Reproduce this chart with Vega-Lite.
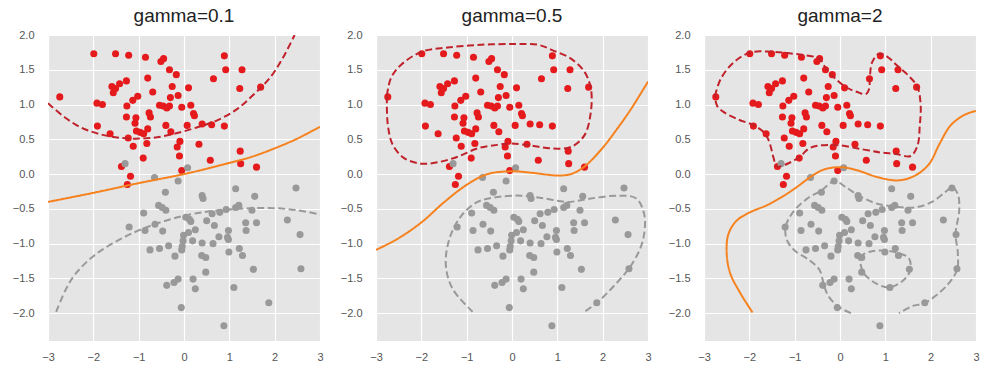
{
"$schema": "https://vega.github.io/schema/vega-lite/v6.json",
"background": "white",
"padding": {"left": 12, "top": 7, "right": 10, "bottom": 5},
"spacing": 56,
"bounds": "flush",
"config": {
 "view": {"fill": "#E5E5E5", "stroke": null},
 "axis": {"grid": true, "gridColor": "#FFFFFF", "gridWidth": 1.2, "domain": false, "ticks": false, "tickSize": 0, "labelColor": "#555555", "labelFont": "Liberation Sans", "labelFontSize": 11, "title": null, "labelFlush": false, "labelOverlap": false},
 "axisX": {"labelPadding": 10},
 "axisY": {"labelPadding": 14},
 "title": {"font": "Liberation Sans", "fontSize": 19, "fontWeight": "normal", "color": "#222222", "offset": 3}
},
"datasets": {
 "pts": [
  {"x":-1.99,"y":1.73,"c":"red"},{"x":-1.51,"y":1.73,"c":"red"},{"x":-1.22,"y":1.71,"c":"red"},{"x":-0.85,"y":1.68,"c":"red"},{"x":-0.51,"y":1.62,"c":"red"},{"x":-0.45,"y":1.66,"c":"red"},{"x":0.89,"y":1.70,"c":"red"},{"x":-0.32,"y":1.50,"c":"red"},{"x":-0.17,"y":1.43,"c":"red"},{"x":0.92,"y":1.50,"c":"red"},{"x":1.28,"y":1.50,"c":"red"},{"x":-0.80,"y":1.38,"c":"red"},{"x":0.65,"y":1.37,"c":"red"},{"x":-1.59,"y":1.26,"c":"red"},{"x":-1.51,"y":1.23,"c":"red"},{"x":-1.56,"y":1.17,"c":"red"},{"x":-1.42,"y":1.30,"c":"red"},{"x":-1.27,"y":1.34,"c":"red"},{"x":-0.26,"y":1.26,"c":"red"},{"x":0.10,"y":1.24,"c":"red"},{"x":1.23,"y":1.23,"c":"red"},{"x":1.69,"y":1.25,"c":"red"},{"x":-2.74,"y":1.11,"c":"red"},{"x":-0.69,"y":1.18,"c":"red"},{"x":-1.02,"y":1.12,"c":"red"},{"x":-1.13,"y":1.06,"c":"red"},{"x":-1.26,"y":0.98,"c":"red"},{"x":-1.92,"y":1.02,"c":"red"},{"x":-1.80,"y":1.00,"c":"red"},{"x":-0.30,"y":1.10,"c":"red"},{"x":-0.13,"y":1.13,"c":"red"},{"x":-0.54,"y":0.99,"c":"red"},{"x":-0.46,"y":0.98,"c":"red"},{"x":-0.38,"y":0.95,"c":"red"},{"x":-0.32,"y":0.98,"c":"red"},{"x":-0.05,"y":0.96,"c":"red"},{"x":0.15,"y":0.99,"c":"red"},{"x":-0.77,"y":0.88,"c":"red"},{"x":-0.74,"y":0.82,"c":"red"},{"x":0.21,"y":0.87,"c":"red"},{"x":0.23,"y":0.84,"c":"red"},{"x":-1.27,"y":0.82,"c":"red"},{"x":-1.06,"y":0.81,"c":"red"},{"x":-1.08,"y":0.73,"c":"red"},{"x":-0.40,"y":0.70,"c":"red"},{"x":0.07,"y":0.70,"c":"red"},{"x":0.40,"y":0.72,"c":"red"},{"x":0.61,"y":0.71,"c":"red"},{"x":0.89,"y":0.69,"c":"red"},{"x":-1.91,"y":0.69,"c":"red"},{"x":-1.05,"y":0.62,"c":"red"},{"x":-0.97,"y":0.60,"c":"red"},{"x":-0.80,"y":0.65,"c":"red"},{"x":-0.89,"y":0.58,"c":"red"},{"x":-0.29,"y":0.61,"c":"red"},{"x":-1.63,"y":0.58,"c":"red"},{"x":-1.23,"y":0.52,"c":"red"},{"x":-0.09,"y":0.47,"c":"red"},{"x":-1.12,"y":0.40,"c":"red"},{"x":-0.82,"y":0.44,"c":"red"},{"x":-0.15,"y":0.39,"c":"red"},{"x":0.33,"y":0.43,"c":"red"},{"x":1.24,"y":0.33,"c":"red"},{"x":-0.10,"y":0.26,"c":"red"},{"x":-0.90,"y":0.23,"c":"red"},{"x":0.58,"y":0.20,"c":"red"},{"x":1.25,"y":0.15,"c":"red"},{"x":1.60,"y":0.10,"c":"red"},{"x":-1.38,"y":0.11,"c":"red"},{"x":-0.05,"y":0.05,"c":"red"},{"x":-1.18,"y":-0.03,"c":"red"},{"x":-1.25,"y":-0.15,"c":"red"},
  {"x":-1.30,"y":0.15,"c":"gray"},{"x":0.08,"y":0.09,"c":"gray"},{"x":-0.13,"y":-0.10,"c":"gray"},{"x":-0.65,"y":-0.05,"c":"gray"},{"x":-0.41,"y":-0.26,"c":"gray"},{"x":0.40,"y":-0.31,"c":"gray"},{"x":0.42,"y":-0.35,"c":"gray"},{"x":1.14,"y":-0.21,"c":"gray"},{"x":1.56,"y":-0.32,"c":"gray"},{"x":2.47,"y":-0.20,"c":"gray"},{"x":-0.56,"y":-0.45,"c":"gray"},{"x":-0.48,"y":-0.48,"c":"gray"},{"x":-0.40,"y":-0.52,"c":"gray"},{"x":-0.89,"y":-0.56,"c":"gray"},{"x":1.14,"y":-0.48,"c":"gray"},{"x":1.21,"y":-0.45,"c":"gray"},{"x":0.93,"y":-0.51,"c":"gray"},{"x":0.79,"y":-0.55,"c":"gray"},{"x":0.62,"y":-0.57,"c":"gray"},{"x":1.50,"y":-0.52,"c":"gray"},{"x":0.04,"y":-0.62,"c":"gray"},{"x":0.12,"y":-0.65,"c":"gray"},{"x":0.15,"y":-0.68,"c":"gray"},{"x":0.50,"y":-0.67,"c":"gray"},{"x":0.67,"y":-0.74,"c":"gray"},{"x":1.36,"y":-0.70,"c":"gray"},{"x":1.60,"y":-0.70,"c":"gray"},{"x":2.28,"y":-0.66,"c":"gray"},{"x":-1.21,"y":-0.76,"c":"gray"},{"x":-0.64,"y":-0.72,"c":"gray"},{"x":-0.86,"y":-0.81,"c":"gray"},{"x":-0.47,"y":-0.82,"c":"gray"},{"x":1.37,"y":-0.81,"c":"gray"},{"x":0.25,"y":-0.80,"c":"gray"},{"x":0.10,"y":-0.84,"c":"gray"},{"x":-0.01,"y":-0.88,"c":"gray"},{"x":0.98,"y":-0.81,"c":"gray"},{"x":0.77,"y":-0.90,"c":"gray"},{"x":0.96,"y":-0.91,"c":"gray"},{"x":0.98,"y":-0.94,"c":"gray"},{"x":2.56,"y":-0.87,"c":"gray"},{"x":-0.02,"y":-0.96,"c":"gray"},{"x":0.19,"y":-0.96,"c":"gray"},{"x":0.40,"y":-0.99,"c":"gray"},{"x":0.64,"y":-1.00,"c":"gray"},{"x":-0.75,"y":-1.09,"c":"gray"},{"x":-0.54,"y":-1.07,"c":"gray"},{"x":-0.34,"y":-1.03,"c":"gray"},{"x":-0.04,"y":-1.04,"c":"gray"},{"x":-0.05,"y":-1.09,"c":"gray"},{"x":-0.20,"y":-1.18,"c":"gray"},{"x":0.99,"y":-1.12,"c":"gray"},{"x":1.22,"y":-1.07,"c":"gray"},{"x":1.29,"y":-1.17,"c":"gray"},{"x":0.39,"y":-1.17,"c":"gray"},{"x":0.48,"y":-1.20,"c":"gray"},{"x":1.53,"y":-1.37,"c":"gray"},{"x":2.58,"y":-1.36,"c":"gray"},{"x":0.48,"y":-1.41,"c":"gray"},{"x":-0.38,"y":-1.60,"c":"gray"},{"x":-0.22,"y":-1.56,"c":"gray"},{"x":-0.13,"y":-1.51,"c":"gray"},{"x":0.20,"y":-1.51,"c":"gray"},{"x":0.25,"y":-1.65,"c":"gray"},{"x":1.10,"y":-1.63,"c":"gray"},{"x":1.87,"y":-1.85,"c":"gray"},{"x":-0.06,"y":-1.92,"c":"gray"},{"x":0.88,"y":-2.18,"c":"gray"}
 ],
 "curves": [
  {"p":1,"k":"b","i":0,"x":-3,"y":-0.40},{"p":1,"k":"b","i":1,"x":-2,"y":-0.27},{"p":1,"k":"b","i":2,"x":-1,"y":-0.13},{"p":1,"k":"b","i":3,"x":0,"y":0.0},{"p":1,"k":"b","i":4,"x":1,"y":0.16},{"p":1,"k":"b","i":5,"x":1.5,"y":0.25},{"p":1,"k":"b","i":6,"x":2,"y":0.37},{"p":1,"k":"b","i":7,"x":2.5,"y":0.51},{"p":1,"k":"b","i":8,"x":3,"y":0.68},
  {"p":1,"k":"r","i":0,"x":-3,"y":1.02},{"p":1,"k":"r","i":1,"x":-2.64,"y":0.82},{"p":1,"k":"r","i":2,"x":-2.27,"y":0.67},{"p":1,"k":"r","i":3,"x":-1.83,"y":0.57},{"p":1,"k":"r","i":4,"x":-1.39,"y":0.52},{"p":1,"k":"r","i":5,"x":-0.99,"y":0.51},{"p":1,"k":"r","i":6,"x":-0.59,"y":0.53},{"p":1,"k":"r","i":7,"x":-0.15,"y":0.59},{"p":1,"k":"r","i":8,"x":0.28,"y":0.67},{"p":1,"k":"r","i":9,"x":0.72,"y":0.77},{"p":1,"k":"r","i":10,"x":1.16,"y":0.93},{"p":1,"k":"r","i":11,"x":1.53,"y":1.14},{"p":1,"k":"r","i":12,"x":1.89,"y":1.38},{"p":1,"k":"r","i":13,"x":2.18,"y":1.67},{"p":1,"k":"r","i":14,"x":2.44,"y":2.0},
  {"p":1,"k":"g","i":0,"x":-2.82,"y":-1.98},{"p":1,"k":"g","i":1,"x":-2.6,"y":-1.65},{"p":1,"k":"g","i":2,"x":-2.4,"y":-1.44},{"p":1,"k":"g","i":3,"x":-2.0,"y":-1.18},{"p":1,"k":"g","i":4,"x":-1.5,"y":-0.97},{"p":1,"k":"g","i":5,"x":-1.0,"y":-0.81},{"p":1,"k":"g","i":6,"x":-0.5,"y":-0.69},{"p":1,"k":"g","i":7,"x":0,"y":-0.60},{"p":1,"k":"g","i":8,"x":0.5,"y":-0.54},{"p":1,"k":"g","i":9,"x":1.0,"y":-0.51},{"p":1,"k":"g","i":10,"x":1.5,"y":-0.49},{"p":1,"k":"g","i":11,"x":2.0,"y":-0.49},{"p":1,"k":"g","i":12,"x":2.5,"y":-0.52},{"p":1,"k":"g","i":13,"x":3.0,"y":-0.58},
  {"p":2,"k":"b","i":0,"x":-3,"y":-1.09},{"p":2,"k":"b","i":1,"x":-2.52,"y":-0.93},{"p":2,"k":"b","i":2,"x":-1.99,"y":-0.69},{"p":2,"k":"b","i":3,"x":-1.49,"y":-0.40},{"p":2,"k":"b","i":4,"x":-0.99,"y":-0.15},{"p":2,"k":"b","i":5,"x":-0.54,"y":0.0},{"p":2,"k":"b","i":6,"x":0,"y":0.04},{"p":2,"k":"b","i":7,"x":0.42,"y":0.02},{"p":2,"k":"b","i":8,"x":1.0,"y":-0.02},{"p":2,"k":"b","i":9,"x":1.30,"y":0.0},{"p":2,"k":"b","i":10,"x":1.60,"y":0.11},{"p":2,"k":"b","i":11,"x":1.99,"y":0.37},{"p":2,"k":"b","i":12,"x":2.33,"y":0.66},{"p":2,"k":"b","i":13,"x":2.63,"y":0.94},{"p":2,"k":"b","i":14,"x":3,"y":1.33},
  {"p":2,"k":"r","i":0,"x":-2.76,"y":1.13},{"p":2,"k":"r","i":1,"x":-2.67,"y":1.38},{"p":2,"k":"r","i":2,"x":-2.45,"y":1.57},{"p":2,"k":"r","i":3,"x":-1.99,"y":1.76},{"p":2,"k":"r","i":4,"x":-1.42,"y":1.82},{"p":2,"k":"r","i":5,"x":-0.68,"y":1.86},{"p":2,"k":"r","i":6,"x":0.05,"y":1.87},{"p":2,"k":"r","i":7,"x":0.57,"y":1.86},{"p":2,"k":"r","i":8,"x":0.90,"y":1.78},{"p":2,"k":"r","i":9,"x":1.30,"y":1.66},{"p":2,"k":"r","i":10,"x":1.60,"y":1.47},{"p":2,"k":"r","i":11,"x":1.74,"y":1.23},{"p":2,"k":"r","i":12,"x":1.74,"y":0.90},{"p":2,"k":"r","i":13,"x":1.60,"y":0.56},{"p":2,"k":"r","i":14,"x":1.30,"y":0.39},{"p":2,"k":"r","i":15,"x":0.86,"y":0.37},{"p":2,"k":"r","i":16,"x":0.42,"y":0.41},{"p":2,"k":"r","i":17,"x":-0.02,"y":0.44},{"p":2,"k":"r","i":18,"x":-0.32,"y":0.42},{"p":2,"k":"r","i":19,"x":-0.76,"y":0.37},{"p":2,"k":"r","i":20,"x":-1.20,"y":0.25},{"p":2,"k":"r","i":21,"x":-1.64,"y":0.17},{"p":2,"k":"r","i":22,"x":-2.01,"y":0.15},{"p":2,"k":"r","i":23,"x":-2.38,"y":0.23},{"p":2,"k":"r","i":24,"x":-2.63,"y":0.42},{"p":2,"k":"r","i":25,"x":-2.74,"y":0.71},{"p":2,"k":"r","i":26,"x":-2.76,"y":1.13},
  {"p":2,"k":"g","i":0,"x":-0.87,"y":-1.98},{"p":2,"k":"g","i":1,"x":-1.31,"y":-1.65},{"p":2,"k":"g","i":2,"x":-1.46,"y":-1.31},{"p":2,"k":"g","i":3,"x":-1.38,"y":-0.93},{"p":2,"k":"g","i":4,"x":-1.13,"y":-0.61},{"p":2,"k":"g","i":5,"x":-0.76,"y":-0.40},{"p":2,"k":"g","i":6,"x":-0.32,"y":-0.33},{"p":2,"k":"g","i":7,"x":0.20,"y":-0.31},{"p":2,"k":"g","i":8,"x":0.71,"y":-0.35},{"p":2,"k":"g","i":9,"x":1.23,"y":-0.40},{"p":2,"k":"g","i":10,"x":1.74,"y":-0.35},{"p":2,"k":"g","i":11,"x":2.33,"y":-0.31},{"p":2,"k":"g","i":12,"x":2.74,"y":-0.35},{"p":2,"k":"g","i":13,"x":2.92,"y":-0.59},{"p":2,"k":"g","i":14,"x":2.88,"y":-0.97},{"p":2,"k":"g","i":15,"x":2.63,"y":-1.31},{"p":2,"k":"g","i":16,"x":2.26,"y":-1.60},{"p":2,"k":"g","i":17,"x":1.89,"y":-1.84},{"p":2,"k":"g","i":18,"x":1.60,"y":-1.98},
  {"p":3,"k":"b","i":0,"x":-1.93,"y":-1.99},{"p":3,"k":"b","i":1,"x":-2.20,"y":-1.71},{"p":3,"k":"b","i":2,"x":-2.42,"y":-1.43},{"p":3,"k":"b","i":3,"x":-2.50,"y":-1.14},{"p":3,"k":"b","i":4,"x":-2.46,"y":-0.86},{"p":3,"k":"b","i":5,"x":-2.28,"y":-0.67},{"p":3,"k":"b","i":6,"x":-1.99,"y":-0.55},{"p":3,"k":"b","i":7,"x":-1.62,"y":-0.45},{"p":3,"k":"b","i":8,"x":-1.26,"y":-0.32},{"p":3,"k":"b","i":9,"x":-0.96,"y":-0.19},{"p":3,"k":"b","i":10,"x":-0.67,"y":-0.05},{"p":3,"k":"b","i":11,"x":-0.38,"y":0.06},{"p":3,"k":"b","i":12,"x":-0.01,"y":0.10},{"p":3,"k":"b","i":13,"x":0.35,"y":0.06},{"p":3,"k":"b","i":14,"x":0.86,"y":-0.05},{"p":3,"k":"b","i":15,"x":1.30,"y":-0.09},{"p":3,"k":"b","i":16,"x":1.66,"y":-0.02},{"p":3,"k":"b","i":17,"x":1.96,"y":0.14},{"p":3,"k":"b","i":18,"x":2.20,"y":0.44},{"p":3,"k":"b","i":19,"x":2.44,"y":0.70},{"p":3,"k":"b","i":20,"x":2.74,"y":0.85},{"p":3,"k":"b","i":21,"x":3.0,"y":0.91},
  {"p":3,"k":"r","i":0,"x":-2.76,"y":1.12},{"p":3,"k":"r","i":1,"x":-2.63,"y":1.37},{"p":3,"k":"r","i":2,"x":-2.34,"y":1.61},{"p":3,"k":"r","i":3,"x":-1.97,"y":1.75},{"p":3,"k":"r","i":4,"x":-1.53,"y":1.76},{"p":3,"k":"r","i":5,"x":-1.16,"y":1.74},{"p":3,"k":"r","i":6,"x":-0.79,"y":1.71},{"p":3,"k":"r","i":7,"x":-0.46,"y":1.66},{"p":3,"k":"r","i":8,"x":-0.32,"y":1.53},{"p":3,"k":"r","i":9,"x":-0.13,"y":1.39},{"p":3,"k":"r","i":10,"x":0.13,"y":1.25},{"p":3,"k":"r","i":11,"x":0.38,"y":1.18},{"p":3,"k":"r","i":12,"x":0.57,"y":1.15},{"p":3,"k":"r","i":13,"x":0.64,"y":1.22},{"p":3,"k":"r","i":14,"x":0.66,"y":1.41},{"p":3,"k":"r","i":15,"x":0.71,"y":1.61},{"p":3,"k":"r","i":16,"x":0.86,"y":1.73},{"p":3,"k":"r","i":17,"x":1.04,"y":1.69},{"p":3,"k":"r","i":18,"x":1.26,"y":1.56},{"p":3,"k":"r","i":19,"x":1.52,"y":1.41},{"p":3,"k":"r","i":20,"x":1.71,"y":1.25},{"p":3,"k":"r","i":21,"x":1.78,"y":0.98},{"p":3,"k":"r","i":22,"x":1.76,"y":0.70},{"p":3,"k":"r","i":23,"x":1.71,"y":0.41},{"p":3,"k":"r","i":24,"x":1.56,"y":0.26},{"p":3,"k":"r","i":25,"x":1.23,"y":0.29},{"p":3,"k":"r","i":26,"x":0.90,"y":0.31},{"p":3,"k":"r","i":27,"x":0.46,"y":0.36},{"p":3,"k":"r","i":28,"x":-0.13,"y":0.42},{"p":3,"k":"r","i":29,"x":-0.65,"y":0.38},{"p":3,"k":"r","i":30,"x":-0.87,"y":0.26},{"p":3,"k":"r","i":31,"x":-1.09,"y":0.17},{"p":3,"k":"r","i":32,"x":-1.40,"y":0.11},{"p":3,"k":"r","i":33,"x":-1.46,"y":0.22},{"p":3,"k":"r","i":34,"x":-1.57,"y":0.48},{"p":3,"k":"r","i":35,"x":-1.68,"y":0.60},{"p":3,"k":"r","i":36,"x":-1.90,"y":0.70},{"p":3,"k":"r","i":37,"x":-2.26,"y":0.79},{"p":3,"k":"r","i":38,"x":-2.56,"y":0.89},{"p":3,"k":"r","i":39,"x":-2.71,"y":0.98},{"p":3,"k":"r","i":40,"x":-2.76,"y":1.12},
  {"p":3,"k":"g","i":0,"x":0.24,"y":-2.0},{"p":3,"k":"g","i":1,"x":-0.05,"y":-1.90},{"p":3,"k":"g","i":2,"x":-0.27,"y":-1.74},{"p":3,"k":"g","i":3,"x":-0.36,"y":-1.58},{"p":3,"k":"g","i":4,"x":-0.45,"y":-1.38},{"p":3,"k":"g","i":5,"x":-0.67,"y":-1.24},{"p":3,"k":"g","i":6,"x":-1.0,"y":-1.10},{"p":3,"k":"g","i":7,"x":-1.17,"y":-0.95},{"p":3,"k":"g","i":8,"x":-1.20,"y":-0.76},{"p":3,"k":"g","i":9,"x":-1.04,"y":-0.55},{"p":3,"k":"g","i":10,"x":-0.74,"y":-0.36},{"p":3,"k":"g","i":11,"x":-0.42,"y":-0.24},{"p":3,"k":"g","i":12,"x":-0.12,"y":-0.10},{"p":3,"k":"g","i":13,"x":0.13,"y":-0.19},{"p":3,"k":"g","i":14,"x":0.42,"y":-0.31},{"p":3,"k":"g","i":15,"x":0.79,"y":-0.42},{"p":3,"k":"g","i":16,"x":1.23,"y":-0.47},{"p":3,"k":"g","i":17,"x":1.66,"y":-0.48},{"p":3,"k":"g","i":18,"x":2.03,"y":-0.40},{"p":3,"k":"g","i":19,"x":2.32,"y":-0.26},{"p":3,"k":"g","i":20,"x":2.48,"y":-0.19},{"p":3,"k":"g","i":21,"x":2.60,"y":-0.29},{"p":3,"k":"g","i":22,"x":2.63,"y":-0.52},{"p":3,"k":"g","i":23,"x":2.55,"y":-0.86},{"p":3,"k":"g","i":24,"x":2.60,"y":-1.14},{"p":3,"k":"g","i":25,"x":2.58,"y":-1.38},{"p":3,"k":"g","i":26,"x":2.36,"y":-1.60},{"p":3,"k":"g","i":27,"x":1.88,"y":-1.85},{"p":3,"k":"g","i":28,"x":1.59,"y":-1.90},{"p":3,"k":"g","i":29,"x":1.30,"y":-2.0},
  {"p":3,"k":"g2","i":0,"x":0.42,"y":-1.19},{"p":3,"k":"g2","i":1,"x":0.64,"y":-1.12},{"p":3,"k":"g2","i":2,"x":1.01,"y":-1.10},{"p":3,"k":"g2","i":3,"x":1.30,"y":-1.14},{"p":3,"k":"g2","i":4,"x":1.52,"y":-1.21},{"p":3,"k":"g2","i":5,"x":1.55,"y":-1.38},{"p":3,"k":"g2","i":6,"x":1.41,"y":-1.52},{"p":3,"k":"g2","i":7,"x":1.09,"y":-1.63},{"p":3,"k":"g2","i":8,"x":0.79,"y":-1.57},{"p":3,"k":"g2","i":9,"x":0.53,"y":-1.43},{"p":3,"k":"g2","i":10,"x":0.45,"y":-1.29},{"p":3,"k":"g2","i":11,"x":0.42,"y":-1.19}
 ]
},
"hconcat": [
 {"width": 272, "height": 306, "title": "gamma=0.1",
  "resolve": {"scale": {"color": "independent"}},
  "encoding": {
   "x": {"field": "x", "type": "quantitative", "scale": {"domain": [-3, 3], "nice": false, "zero": false}, "axis": {"values": [-3,-2,-1,0,1,2,3], "format": "d"}},
   "y": {"field": "y", "type": "quantitative", "scale": {"domain": [-2.4, 2.0], "nice": false, "zero": false}, "axis": {"values": [-2,-1.5,-1,-0.5,0,0.5,1,1.5,2], "format": ".1f"}}},
  "layer": [
   {"data": {"name": "pts"}, "mark": {"type": "circle", "size": 50, "opacity": 1},
    "encoding": {"color": {"field": "c", "type": "nominal", "scale": {"domain": ["red","gray"], "range": ["#E41A1C","#999999"]}, "legend": null}}},
   {"data": {"name": "curves"}, "transform": [{"filter": "datum.p == 1"}], "mark": {"type": "line", "strokeWidth": 2, "clip": true, "interpolate": "catmull-rom"},
    "encoding": {
     "order": {"field": "i", "type": "quantitative"},
     "detail": {"field": "k"},
     "color": {"field": "k", "type": "nominal", "scale": {"domain": ["b","r","g","g2"], "range": ["#F5821F","#C0222B","#999999","#999999"]}, "legend": null},
     "strokeDash": {"field": "k", "type": "nominal", "scale": {"domain": ["b","r","g","g2"], "range": [[1,0],[7,3.5],[7,3.5],[7,3.5]]}, "legend": null}}}
  ]},
 {"width": 272, "height": 306, "title": "gamma=0.5",
  "resolve": {"scale": {"color": "independent"}},
  "encoding": {
   "x": {"field": "x", "type": "quantitative", "scale": {"domain": [-3, 3], "nice": false, "zero": false}, "axis": {"values": [-3,-2,-1,0,1,2,3], "format": "d"}},
   "y": {"field": "y", "type": "quantitative", "scale": {"domain": [-2.4, 2.0], "nice": false, "zero": false}, "axis": {"values": [-2,-1.5,-1,-0.5,0,0.5,1,1.5,2], "format": ".1f"}}},
  "layer": [
   {"data": {"name": "pts"}, "mark": {"type": "circle", "size": 50, "opacity": 1},
    "encoding": {"color": {"field": "c", "type": "nominal", "scale": {"domain": ["red","gray"], "range": ["#E41A1C","#999999"]}, "legend": null}}},
   {"data": {"name": "curves"}, "transform": [{"filter": "datum.p == 2"}], "mark": {"type": "line", "strokeWidth": 2, "clip": true, "interpolate": "catmull-rom"},
    "encoding": {
     "order": {"field": "i", "type": "quantitative"},
     "detail": {"field": "k"},
     "color": {"field": "k", "type": "nominal", "scale": {"domain": ["b","r","g","g2"], "range": ["#F5821F","#C0222B","#999999","#999999"]}, "legend": null},
     "strokeDash": {"field": "k", "type": "nominal", "scale": {"domain": ["b","r","g","g2"], "range": [[1,0],[7,3.5],[7,3.5],[7,3.5]]}, "legend": null}}}
  ]},
 {"width": 272, "height": 306, "title": "gamma=2",
  "resolve": {"scale": {"color": "independent"}},
  "encoding": {
   "x": {"field": "x", "type": "quantitative", "scale": {"domain": [-3, 3], "nice": false, "zero": false}, "axis": {"values": [-3,-2,-1,0,1,2,3], "format": "d"}},
   "y": {"field": "y", "type": "quantitative", "scale": {"domain": [-2.4, 2.0], "nice": false, "zero": false}, "axis": {"values": [-2,-1.5,-1,-0.5,0,0.5,1,1.5,2], "format": ".1f"}}},
  "layer": [
   {"data": {"name": "pts"}, "mark": {"type": "circle", "size": 50, "opacity": 1},
    "encoding": {"color": {"field": "c", "type": "nominal", "scale": {"domain": ["red","gray"], "range": ["#E41A1C","#999999"]}, "legend": null}}},
   {"data": {"name": "curves"}, "transform": [{"filter": "datum.p == 3"}], "mark": {"type": "line", "strokeWidth": 2, "clip": true, "interpolate": "catmull-rom"},
    "encoding": {
     "order": {"field": "i", "type": "quantitative"},
     "detail": {"field": "k"},
     "color": {"field": "k", "type": "nominal", "scale": {"domain": ["b","r","g","g2"], "range": ["#F5821F","#C0222B","#999999","#999999"]}, "legend": null},
     "strokeDash": {"field": "k", "type": "nominal", "scale": {"domain": ["b","r","g","g2"], "range": [[1,0],[7,3.5],[7,3.5],[7,3.5]]}, "legend": null}}}
  ]}
]
}
